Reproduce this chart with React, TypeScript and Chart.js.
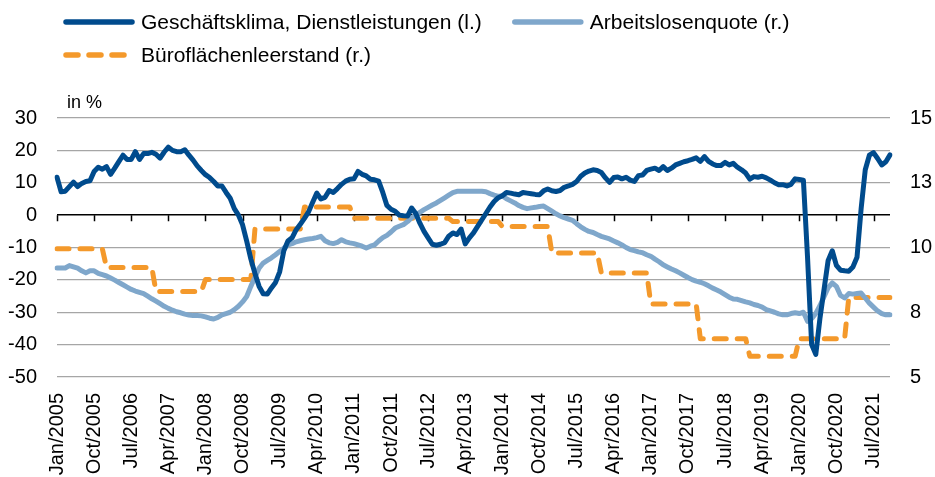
import React, { useEffect, useRef } from 'react';
import { Chart, registerables } from 'chart.js';
Chart.register(...registerables);

const MONTHS = ['Jan', 'Feb', 'Mar', 'Apr', 'May', 'Jun', 'Jul', 'Aug', 'Sep', 'Oct', 'Nov', 'Dec'];
const START_YEAR = 2005;
const N_POINTS = 203; // Jan/2005 .. Nov/2021
const LABELS: string[] = [];
for (let i = 0; i < N_POINTS; i++) {
  LABELS.push(MONTHS[i % 12] + '/' + (START_YEAR + Math.floor(i / 12)));
}
const LABEL_EVERY = 9;

const SERIES_NAMES = [
  'Geschäftsklima, Dienstleistungen (l.)',
  'Arbeitslosenquote (r.)',
  'Büroflächenleerstand (r.)',
];

// Geschäftsklima Dienstleistungen (left axis)
const GESCHAEFTSKLIMA = [
  11.7, 7.2, 7.4, 8.8, 10.2, 8.8, 9.8, 10.4, 10.6, 13.5, 14.8, 14.2,
  15.0, 12.6, 14.5, 16.5, 18.5, 17.2, 17.2, 19.6, 17.2, 19.0, 19.0, 19.4,
  18.8, 17.6, 19.5, 21.0, 20.0, 19.6, 19.6, 20.2, 18.5, 17.0, 15.2, 13.8,
  12.5, 11.6, 10.4, 9.0, 9.0, 7.0, 5.2, 2.0, 0.0, -3.0, -8.0, -13.5,
  -18.0, -22.0, -24.3, -24.4, -22.5, -20.8, -17.5, -11.0, -8.0, -7.0, -4.5, -2.8,
  -1.0, 1.0, 4.0, 6.8, 5.0, 5.5, 7.6, 7.0, 8.2, 9.5, 10.5, 11.1,
  11.2, 13.5, 12.6, 12.1, 11.1, 10.9, 10.5, 7.0, 3.0, 1.8, 1.2, 0.0,
  -0.2, -0.3, 2.2, 0.5, -2.5, -5.0, -7.0, -9.0, -9.3, -9.0, -8.5, -6.5,
  -5.5, -6.0, -4.3, -8.9, -7.0, -5.5, -3.5, -1.5, 0.5, 2.5, 4.2, 5.4,
  6.0, 7.0, 6.8, 6.5, 6.3, 7.0, 6.8, 6.6, 6.4, 6.3, 7.5, 8.1,
  7.5, 7.3, 7.6, 8.6, 9.0, 9.5, 10.4, 12.0, 13.0, 13.6, 14.0, 13.8,
  13.2, 11.5, 10.1, 11.6, 11.8, 11.2, 11.7, 10.8, 10.4, 12.2, 12.4, 13.8,
  14.2, 14.5, 13.8, 15.0, 13.8, 14.5, 15.5, 16.0, 16.5, 16.8, 17.2, 17.7,
  16.6, 18.1, 16.6, 15.8, 15.3, 15.3, 16.3, 15.5, 16.0, 14.8, 14.0, 13.0,
  11.1, 11.9, 11.7, 12.0, 11.5, 10.8, 10.0, 9.4, 9.4, 9.0, 9.5, 11.2,
  11.0, 10.8, -13.0, -40.0, -43.0, -32.0, -23.0, -14.0, -11.0, -15.5, -17.0, -17.2,
  -17.3, -16.0, -13.0, 2.0, 14.0, 18.5, 19.3, 17.5, 15.5, 16.5, 18.6,
];

// Arbeitslosenquote (right axis)
const ARBEITSLOSENQUOTE = [
  9.21, 9.21, 9.21, 9.3, 9.25, 9.2, 9.1, 9.02, 9.1, 9.1, 9.0, 8.95,
  8.9, 8.82, 8.74, 8.65, 8.56, 8.47, 8.38, 8.32, 8.27, 8.22, 8.12, 8.02,
  7.93, 7.83, 7.73, 7.65, 7.58, 7.52, 7.48, 7.43, 7.39, 7.37, 7.37, 7.36,
  7.32, 7.27, 7.24, 7.3, 7.4, 7.45, 7.5, 7.6, 7.73, 7.9, 8.11, 8.5,
  8.85, 9.2, 9.4, 9.5, 9.6, 9.72, 9.85, 9.97, 10.1, 10.15, 10.22, 10.26,
  10.3, 10.33, 10.35, 10.38, 10.43, 10.26, 10.18, 10.15, 10.2, 10.3, 10.22, 10.18,
  10.15, 10.1, 10.05, 9.98, 10.05, 10.1, 10.25, 10.38, 10.47, 10.6, 10.75, 10.82,
  10.88, 11.0, 11.15, 11.25, 11.36, 11.46, 11.55, 11.64, 11.72, 11.82, 11.92, 12.02,
  12.12, 12.17, 12.17, 12.17, 12.17, 12.17, 12.17, 12.17, 12.15, 12.08, 12.02, 11.97,
  12.0, 11.88, 11.8, 11.72, 11.62, 11.55, 11.5, 11.53, 11.55, 11.58, 11.6, 11.5,
  11.4, 11.3, 11.22, 11.15, 11.1, 11.05, 10.92, 10.8, 10.7, 10.62, 10.58, 10.5,
  10.43, 10.38, 10.33, 10.25, 10.18, 10.1, 10.0, 9.92, 9.88, 9.83, 9.8, 9.72,
  9.66, 9.55, 9.45, 9.33, 9.25, 9.17, 9.1, 9.02, 8.93, 8.84, 8.76, 8.7,
  8.66, 8.6, 8.52, 8.43, 8.36, 8.28, 8.18, 8.08, 8.01, 8.0, 7.95, 7.9,
  7.86, 7.8, 7.76, 7.7, 7.6, 7.55, 7.5, 7.44, 7.4, 7.4, 7.45, 7.48,
  7.45, 7.5, 7.15, 7.25, 7.45, 7.75, 8.1, 8.45, 8.63, 8.5, 8.15, 8.05,
  8.22, 8.2, 8.22, 8.24, 8.05, 7.85, 7.7, 7.55, 7.45, 7.4, 7.4,
];

// Büroflächenleerstand (right axis), monthly
const BUEROFLAECHENLEERSTAND = [
  9.95, 9.95, 9.95, 9.95, 9.95, 9.95, 9.95, 9.95, 9.95, 9.95, 9.95, 9.95,
  9.23, 9.23, 9.23, 9.23, 9.23, 9.23, 9.23, 9.23, 9.23, 9.23, 9.23, 9.23,
  8.3, 8.3, 8.3, 8.3, 8.3, 8.3, 8.3, 8.3, 8.3, 8.3, 8.3, 8.3,
  8.76, 8.76, 8.76, 8.76, 8.76, 8.76, 8.76, 8.76, 8.76, 8.76, 8.76, 8.76,
  10.71, 10.71, 10.71, 10.71, 10.71, 10.71, 10.71, 10.71, 10.71, 10.71, 10.71, 10.71,
  11.56, 11.56, 11.56, 11.56, 11.56, 11.56, 11.56, 11.56, 11.56, 11.56, 11.56, 11.56,
  11.13, 11.13, 11.13, 11.13, 11.13, 11.13, 11.13, 11.13, 11.13, 11.13, 11.13, 11.13,
  11.13, 11.13, 11.13, 11.13, 11.13, 11.13, 11.13, 11.13, 11.13, 11.13, 11.13, 11.13,
  11.0, 11.0, 11.0, 11.0, 11.0, 11.0, 11.0, 11.0, 11.0, 11.0, 11.0, 11.0,
  10.81, 10.81, 10.81, 10.81, 10.81, 10.81, 10.81, 10.81, 10.81, 10.81, 10.81, 10.81,
  9.79, 9.79, 9.79, 9.79, 9.79, 9.79, 9.79, 9.79, 9.79, 9.79, 9.79, 9.79,
  9.02, 9.02, 9.02, 9.02, 9.02, 9.02, 9.02, 9.02, 9.02, 9.02, 9.02, 9.02,
  7.82, 7.82, 7.82, 7.82, 7.82, 7.82, 7.82, 7.82, 7.82, 7.82, 7.82, 7.82,
  6.48, 6.48, 6.48, 6.48, 6.48, 6.48, 6.48, 6.48, 6.48, 6.48, 6.48, 6.48,
  5.8, 5.8, 5.8, 5.8, 5.8, 5.8, 5.8, 5.8, 5.8, 5.8, 5.8, 5.8,
  6.48, 6.48, 6.48, 6.48, 6.48, 6.48, 6.48, 6.48, 6.48, 6.48, 6.48, 6.48,
  8.07, 8.07, 8.07, 8.07, 8.07, 8.07, 8.07, 8.07, 8.07, 8.07, 8.07,
];

const LEFT_MIN = -50, LEFT_MAX = 30, LEFT_STEP = 10;
const RIGHT_MIN = 5, RIGHT_MAX = 15, RIGHT_STEP = 2.5;

const C_DARK = '#004b8d';
const C_LIGHT = '#7fa7cb';
const C_ORANGE = '#f4992b';
const FONT = '"Liberation Sans", Arial, Helvetica, sans-serif';

const legendPlugin = {
  id: 'customLegend',
  afterDraw(chart: any) {
    const ctx = chart.ctx;
    const ds = chart.data.datasets;
    ctx.save();
    ctx.font = '21px ' + FONT;
    ctx.fillStyle = '#000';
    ctx.textBaseline = 'middle';
    const sampleW = 72, gapText = 6, itemGap = 30, startX = 63, rowY = [22, 55];
    const rows = [[0, 1], [2]];
    rows.forEach((row, r) => {
      let x = startX;
      row.forEach((di) => {
        const d = ds[di];
        const y = rowY[r];
        ctx.beginPath();
        ctx.lineWidth = 5.5;
        ctx.lineCap = 'round';
        ctx.strokeStyle = d.borderColor;
        ctx.setLineDash(d.borderDash || []);
        ctx.moveTo(x + 3, y);
        ctx.lineTo(x + sampleW - 3, y);
        ctx.stroke();
        ctx.setLineDash([]);
        ctx.fillText(d.label, x + sampleW + gapText, y + 1);
        x += sampleW + gapText + ctx.measureText(d.label).width + itemGap;
      });
    });
    ctx.restore();
  },
};

const unitPlugin = {
  id: 'unitLabel',
  afterDraw(chart: any) {
    const ctx = chart.ctx;
    const area = chart.chartArea;
    ctx.save();
    ctx.font = '18px ' + FONT;
    ctx.fillStyle = '#000';
    ctx.textBaseline = 'middle';
    ctx.fillText('in %', area.left + 10, area.top - 15);
    ctx.restore();
  },
};

const zeroTickPlugin = {
  id: 'zeroTicks',
  beforeDatasetsDraw(chart: any) {
    const ctx = chart.ctx;
    const xs = chart.scales.x;
    const ys = chart.scales.y;
    const y0 = ys.getPixelForValue(0);
    ctx.save();
    ctx.strokeStyle = '#000';
    ctx.lineWidth = 1.5;
    ctx.beginPath();
    for (let i = 0; i < LABELS.length; i += LABEL_EVERY) {
      const x = Math.round(xs.getPixelForValue(i)) + 0.5;
      ctx.moveTo(x, y0);
      ctx.lineTo(x, y0 + 6);
    }
    ctx.stroke();
    ctx.restore();
  },
};

export default function App() {
  const ref = useRef<HTMLCanvasElement>(null);
  useEffect(() => {
    Chart.defaults.font.family = FONT;
    Chart.defaults.color = '#000';
    const chart = new Chart(ref.current as HTMLCanvasElement, {
      type: 'line',
      data: {
        labels: LABELS,
        datasets: [
          {
            label: SERIES_NAMES[0],
            data: GESCHAEFTSKLIMA,
            yAxisID: 'y',
            borderColor: C_DARK,
            backgroundColor: C_DARK,
            borderWidth: 5,
            pointRadius: 0,
            tension: 0,
            borderJoinStyle: 'round',
            borderCapStyle: 'round',
          },
          {
            label: SERIES_NAMES[1],
            data: ARBEITSLOSENQUOTE,
            yAxisID: 'y1',
            borderColor: C_LIGHT,
            backgroundColor: C_LIGHT,
            borderWidth: 5,
            pointRadius: 0,
            tension: 0,
            borderJoinStyle: 'round',
            borderCapStyle: 'round',
          },
          {
            label: SERIES_NAMES[2],
            data: BUEROFLAECHENLEERSTAND,
            yAxisID: 'y1',
            borderColor: C_ORANGE,
            backgroundColor: C_ORANGE,
            borderWidth: 5,
            borderDash: [12, 11],
            pointRadius: 0,
            tension: 0,
            borderJoinStyle: 'round',
            borderCapStyle: 'round',
          },
        ],
      },
      options: {
        animation: false,
        responsive: true,
        maintainAspectRatio: false,
        layout: { padding: { left: 0, right: 0, top: 118, bottom: 0 } },
        plugins: {
          legend: { display: false },
          title: { display: false },
          tooltip: { enabled: false },
        },
        scales: {
          x: {
            type: 'category',
            offset: false,
            grid: { display: false },
            border: { display: false },
            afterFit: (s: any) => { s.height = 100; s.paddingLeft = 0; s.paddingRight = 0; },
            ticks: {
              autoSkip: false,
              minRotation: 90,
              maxRotation: 90,
              padding: 8,
              font: { size: 20 },
              color: '#000',
              callback: (_v: any, index: number) => (index % LABEL_EVERY === 0 ? LABELS[index] : null),
            },
          },
          y: {
            position: 'left',
            min: LEFT_MIN,
            max: LEFT_MAX,
            border: { display: false },
            afterFit: (s: any) => { s.width = 57; },
            grid: {
              drawTicks: false,
              color: (c: any) => (c.tick && c.tick.value === 0 ? '#000' : '#a6a6a6'),
              lineWidth: (c: any) => (c.tick && c.tick.value === 0 ? 1.6 : 1.3),
            },
            ticks: { stepSize: LEFT_STEP, padding: 20, font: { size: 20 }, color: '#000' },
          },
          y1: {
            position: 'right',
            min: RIGHT_MIN,
            max: RIGHT_MAX,
            border: { display: false },
            afterFit: (s: any) => { s.width = 45; },
            grid: { display: false, drawTicks: false },
            ticks: {
              stepSize: RIGHT_STEP,
              padding: 20,
              font: { size: 20 },
              color: '#000',
              callback: (v: any) => String(Math.round(Number(v))),
            },
          },
        },
      },
      plugins: [legendPlugin, unitPlugin, zeroTickPlugin],
    });
    return () => chart.destroy();
  }, []);
  return (
    <div style={{ position: 'absolute', left: 0, top: 0, width: 935, height: 477 }}>
      <canvas ref={ref} />
    </div>
  );
}
